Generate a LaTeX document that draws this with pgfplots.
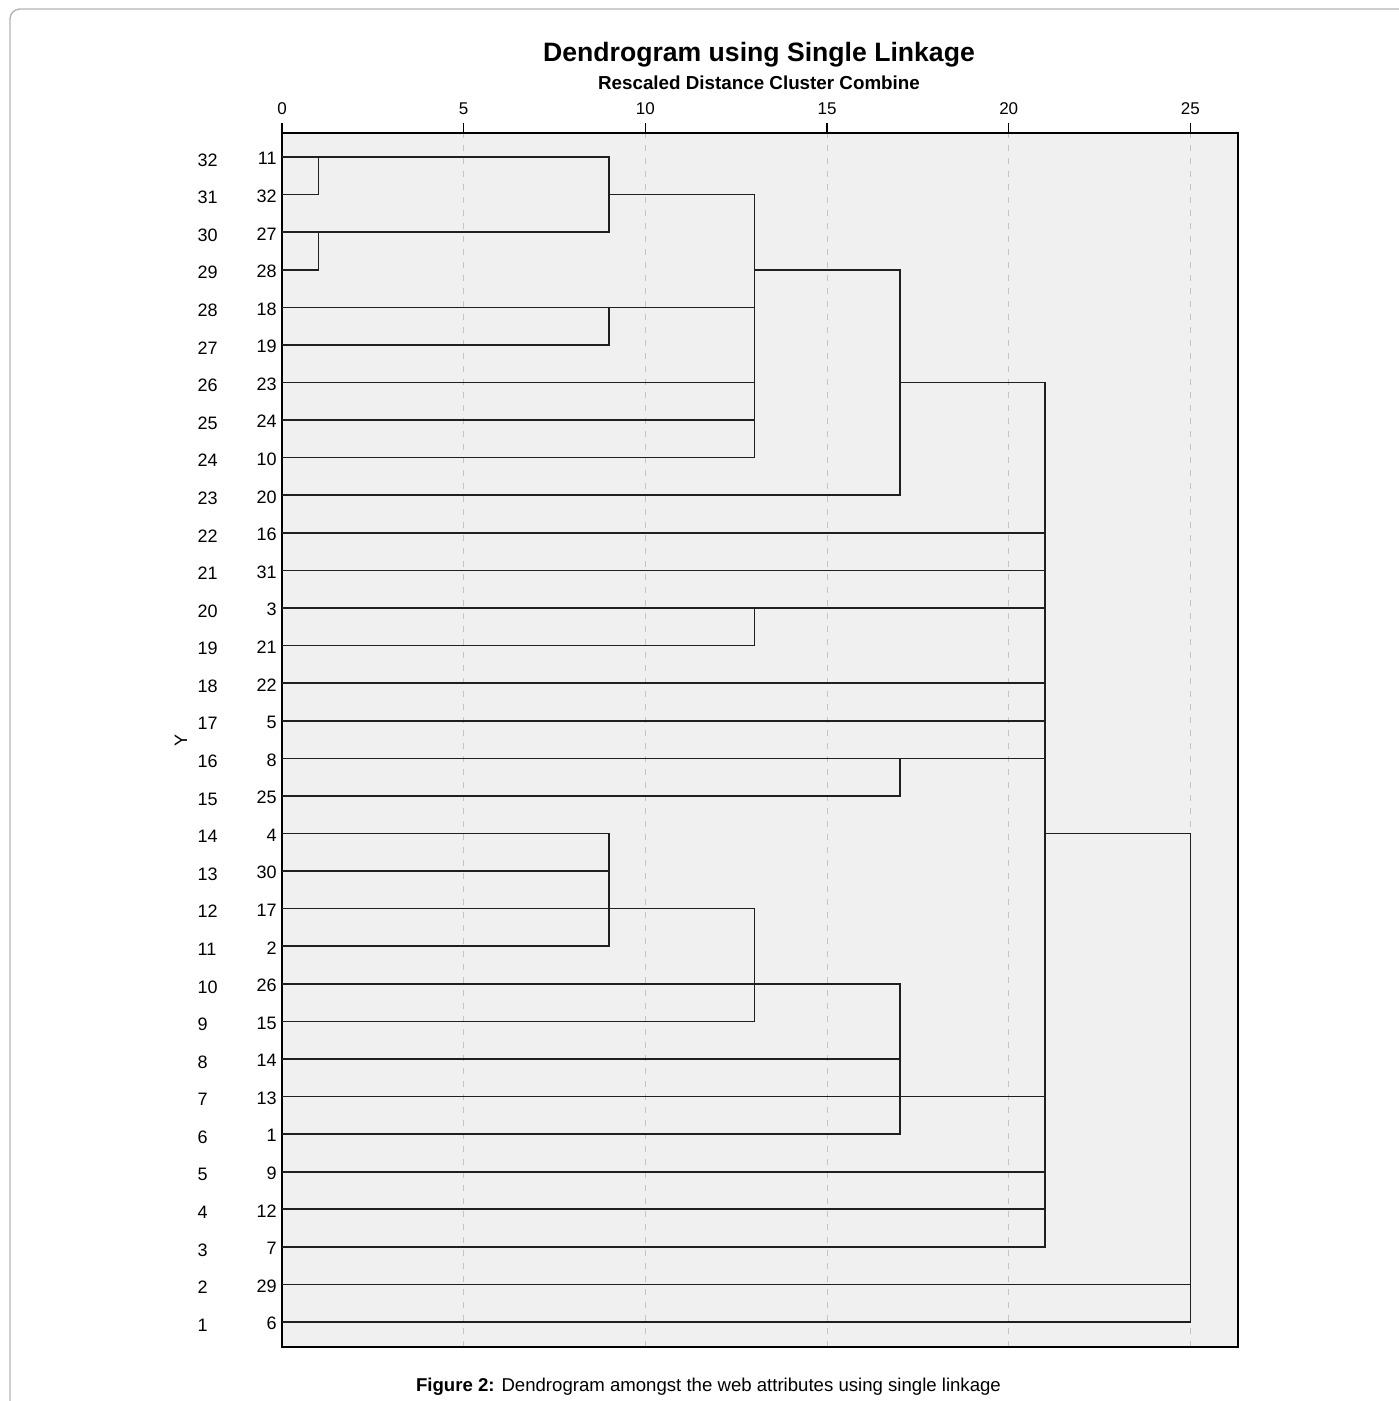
\documentclass[border=0pt]{standalone}
\usepackage{pgfplots}
\pgfplotsset{compat=1.18}
\usepackage{fontspec}
\setmainfont{Liberation Sans}
\definecolor{bgcol}{HTML}{F0F0F0}
\definecolor{gridcol}{HTML}{C4C4C4}
\definecolor{framecol}{HTML}{B4B4B4}
\newcommand\yl[2]{\makebox[39.5pt]{\raisebox{-0.7pt}[0pt][0pt]{\rlap{#1}}\hfill#2}}
\pgfplotsset{dend/.style={black!88, line width=0.8pt, mark=none, solid}}
\begin{document}
\begin{tikzpicture}
\useasboundingbox (0,0) rectangle (699pt,-700.5pt);
\draw[framecol, line width=0.7pt, rounded corners=5pt] (5pt,-720pt) -- (5pt,-4.5pt) -- (720pt,-4.5pt);
\begin{axis}[
  at={(141pt,-66.5pt)}, anchor=north west,
  scale only axis, width=478pt, height=607pt,
  xmin=0, xmax=26.31, ymin=0.335, ymax=32.64,
  axis background/.style={fill=bgcol},
  axis line style={black, line width=0.8pt},
  xtick={0,5,10,15,20,25},
  xtick pos=right, xticklabel pos=right,
  tick align=outside, major tick length=5pt,
  xtick style={black, line width=0.6pt},
  xticklabel style={font=\fontsize{8.5}{10}\selectfont, inner sep=0pt, anchor=south, yshift=4pt},
  xmajorgrids, grid style={gridcol, dash pattern=on 3pt off 3.5pt, line width=0.5pt},
  ytick={1,...,32},
  ytick style={draw=none},
  ytick pos=left,
  yticklabels={{\yl{1}{6}},{\yl{2}{29}},{\yl{3}{7}},{\yl{4}{12}},{\yl{5}{9}},{\yl{6}{1}},{\yl{7}{13}},{\yl{8}{14}},{\yl{9}{15}},{\yl{10}{26}},{\yl{11}{2}},{\yl{12}{17}},{\yl{13}{30}},{\yl{14}{4}},{\yl{15}{25}},{\yl{16}{8}},{\yl{17}{5}},{\yl{18}{22}},{\yl{19}{21}},{\yl{20}{3}},{\yl{21}{31}},{\yl{22}{16}},{\yl{23}{20}},{\yl{24}{10}},{\yl{25}{24}},{\yl{26}{23}},{\yl{27}{19}},{\yl{28}{18}},{\yl{29}{28}},{\yl{30}{27}},{\yl{31}{32}},{\yl{32}{11}}},
  yticklabel style={font=\fontsize{9}{10}\selectfont, inner sep=0pt, anchor=east, xshift=2.5pt, yshift=-0.8pt},
  ylabel={Y},
  ylabel style={at={(axis description cs:-0.1057,0.5)}, anchor=center, font=\fontsize{9}{10}\selectfont, inner sep=0pt},
  /pgf/number format/assume math mode=true,
]
\addplot[dend] coordinates {(0,32) (9,32) (9,30) (0,30)};
\addplot[dend] coordinates {(0,31) (1,31) (1,32)};
\addplot[dend] coordinates {(0,29) (1,29) (1,30)};
\addplot[dend] coordinates {(9,31) (13,31) (13,24) (0,24)};
\addplot[dend] coordinates {(0,28) (13,28)};
\addplot[dend] coordinates {(9,28) (9,27) (0,27)};
\addplot[dend] coordinates {(0,26) (13,26)};
\addplot[dend] coordinates {(0,25) (13,25)};
\addplot[dend] coordinates {(13,29) (17,29) (17,23) (0,23)};
\addplot[dend] coordinates {(17,26) (21,26) (21,3) (0,3)};
\addplot[dend] coordinates {(0,22) (21,22)};
\addplot[dend] coordinates {(0,21) (21,21)};
\addplot[dend] coordinates {(0,20) (21,20)};
\addplot[dend] coordinates {(13,20) (13,19) (0,19)};
\addplot[dend] coordinates {(0,18) (21,18)};
\addplot[dend] coordinates {(0,17) (21,17)};
\addplot[dend] coordinates {(0,16) (21,16)};
\addplot[dend] coordinates {(17,16) (17,15) (0,15)};
\addplot[dend] coordinates {(0,14) (9,14) (9,11) (0,11)};
\addplot[dend] coordinates {(0,13) (9,13)};
\addplot[dend] coordinates {(0,12) (13,12) (13,9) (0,9)};
\addplot[dend] coordinates {(0,10) (17,10) (17,6) (0,6)};
\addplot[dend] coordinates {(0,8) (17,8)};
\addplot[dend] coordinates {(0,7) (21,7)};
\addplot[dend] coordinates {(0,5) (21,5)};
\addplot[dend] coordinates {(0,4) (21,4)};
\addplot[dend] coordinates {(21,14) (25,14) (25,1) (0,1)};
\addplot[dend] coordinates {(0,2) (25,2)};
\end{axis}
\node[anchor=base, font=\fontsize{13.3}{15}\selectfont\bfseries] at (379.5pt,-31pt) {Dendrogram using Single Linkage};
\node[anchor=base, font=\fontsize{9.4}{11}\selectfont\bfseries] at (379.5pt,-45pt) {Rescaled Distance Cluster Combine};
\node[anchor=base, font=\fontsize{9.3}{11}\selectfont] at (354.25pt,-695.5pt) {\textbf{Figure 2:} Dendrogram amongst the web attributes using single linkage};
\end{tikzpicture}
\end{document}
